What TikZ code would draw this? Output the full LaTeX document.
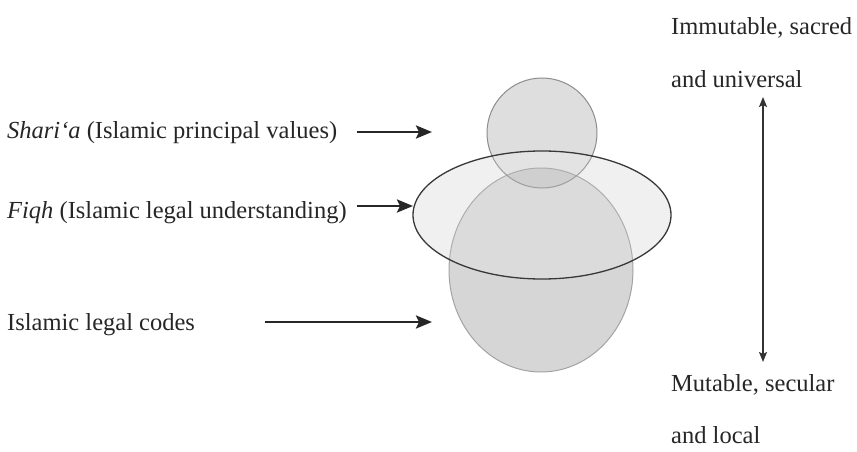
\documentclass[tikz,border=0pt]{standalone}
\usepackage{fontspec}
\setmainfont{Liberation Serif}
\usetikzlibrary{arrows.meta,positioning}

\tikzset{
  lbl/.style={anchor=west, inner sep=0pt, text=black!85, font=\fontsize{24.5}{28}\selectfont},
  pointer/.style={line width=2.6pt, draw=black!85, -{Stealth[length=16pt,width=13pt,inset=3pt]}},
  span/.style={line width=1.6pt, draw=black!80, {Stealth[length=10pt,width=8pt,inset=2pt]}-{Stealth[length=10pt,width=8pt,inset=2pt]}}
}

\begin{document}
\begin{tikzpicture}[x=1pt,y=-1pt]
  \useasboundingbox (0,0) rectangle (857,452);

  % the three layers
  \filldraw[fill=black!16, draw=black!36, line width=1pt] (541,270) ellipse [x radius=92, y radius=102];
  \filldraw[fill=black!13, draw=black!45, line width=1pt] (542,133) circle [radius=55];
  \fill[black!6] (542,215) ellipse [x radius=129, y radius=64];
  \begin{scope}
    \clip (542,215) ellipse [x radius=129, y radius=64];
    \fill[black!14] (541,270) ellipse [x radius=92, y radius=102];
    \fill[black!11] (542,133) circle [radius=55];
    \begin{scope}
      \clip (542,133) circle [radius=55];
      \fill[black!19] (541,270) ellipse [x radius=92, y radius=102];
    \end{scope}
    \draw[black!32, line width=1pt] (541,270) ellipse [x radius=92, y radius=102];
    \draw[black!38, line width=1pt] (542,133) circle [radius=55];
  \end{scope}
  \draw[line width=1.3pt, black!78] (542,215) ellipse [x radius=129, y radius=64];

  % labels on the left
  \node[lbl] (sharia) at (7,133) {\textit{Shari\symbol{96}a} (Islamic principal values)};
  \node[lbl] (fiqh) at (7,213) {\textit{Fiqh} (Islamic legal understanding)};
  \node[lbl] (codes) at (7,325) {Islamic legal codes};

  \coordinate (shariastart) at (357,132);
  \coordinate (shariatip) at (432,132);
  \coordinate (fiqhstart) at (357,206);
  \coordinate (fiqhtip) at (413,206);
  \coordinate (codesstart) at (265,322);
  \coordinate (codestip) at (432,322);

  \draw[pointer] (shariastart) -- (shariatip);
  \draw[pointer] (fiqhstart) -- (fiqhtip);
  \draw[pointer] (codesstart) -- (codestip);

  % scale on the right
  \node[lbl] (top1) at (671,28) {Immutable, sacred};
  \node[lbl] (top2) at (671,79) {and universal};
  \node[lbl] (bot1) at (671,385) {Mutable, secular};
  \node[lbl] (bot2) at (671,435) {and local};

  \coordinate (spantop) at (763,97);
  \coordinate (spanbot) at (763,362);
  \draw[span] (spantop) -- (spanbot);
\end{tikzpicture}
\end{document}
